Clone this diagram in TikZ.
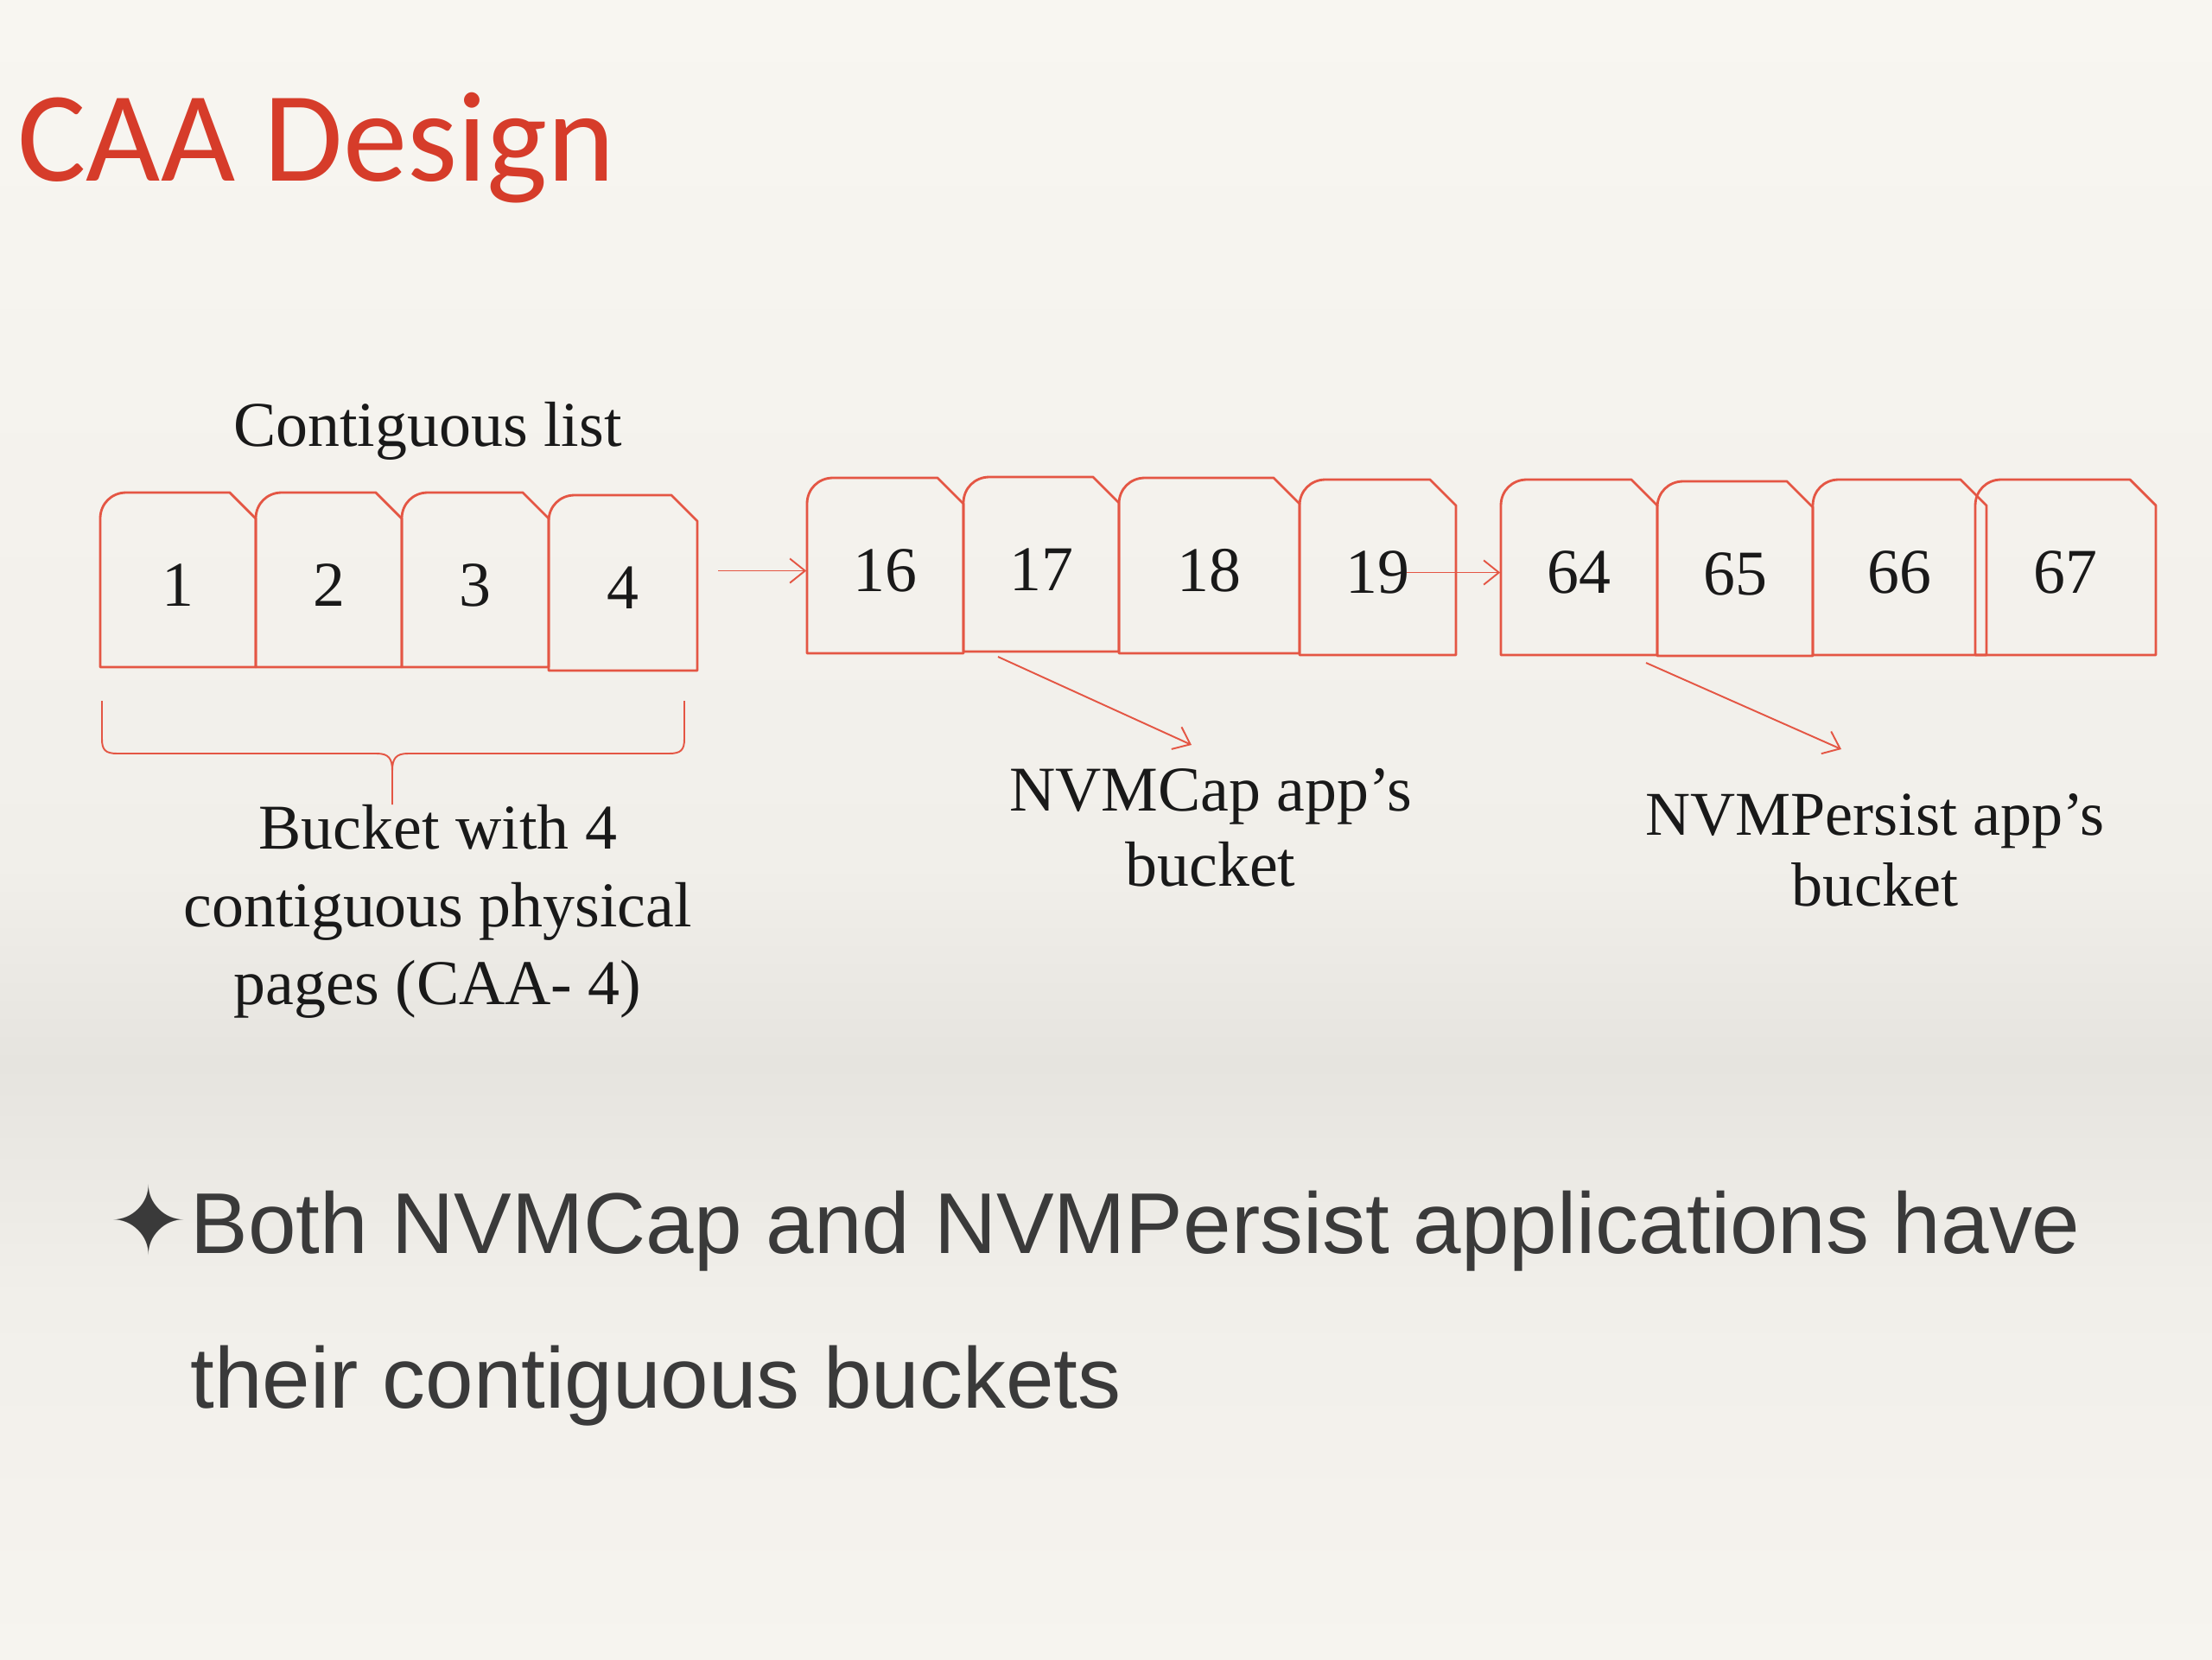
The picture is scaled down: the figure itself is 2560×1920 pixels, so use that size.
\documentclass[tikz,border=0pt]{standalone}
\usepackage{fontspec}
\setmainfont{Liberation Serif}
\newfontfamily\titlefont{Carlito}
\newfontfamily\bodyfont{Liberation Sans}
\newfontfamily\symbfont{DejaVu Sans}
\usetikzlibrary{positioning}
\usetikzlibrary{arrows.meta}

\definecolor{pagered}{RGB}{228,86,68}
\definecolor{titlered}{RGB}{214,60,42}
\definecolor{inkgray}{RGB}{58,58,58}
\definecolor{bgtop}{RGB}{248,246,241}
\definecolor{bgmid}{RGB}{241,239,234}
\definecolor{bgband}{RGB}{230,228,223}
\definecolor{bgbot}{RGB}{246,244,239}

\tikzset{pageline/.style = {draw=pagered, line width=0.8pt, line join=round}}
\tikzset{pagenum/.style = {inner sep=0, text=black!90, font=\fontsize{21}{25}\selectfont}}
\tikzset{link/.style = {draw=pagered, line width=0.55pt,
                        -{Straight Barb[length=5pt,width=8pt]}}}
\tikzset{note/.style = {align=center, inner sep=0, text=black!90,
                        font=\fontsize{21}{25.5}\selectfont}}

% one page of a bucket: name, left, top, right, bottom, number
\newcommand{\pagebox}[6]{%
  \draw[pageline] (#2,#5) -- (#2,#3+30) .. controls (#2,#3+13) and (#2+13,#3) .. (#2+30,#3)
    -- (#4-30,#3) -- (#4,#3+30) -- (#4,#5) -- cycle;
  \node[pagenum, minimum width={(#4-#2)*0.28453pt}, minimum height={(#5-#3)*0.28453pt}]
    (#1) at ({(#2+#4)/2},{(#3+#5)/2+6}) {#6};
}

\begin{document}
\begin{tikzpicture}[x=0.01cm, y=-0.01cm]
      \useasboundingbox (0,0) rectangle (2560,1920);
      % parchment background
      \fill[top color=bgtop, bottom color=bgmid] (0,0) rectangle (2560,1001);
      \fill[top color=bgmid, bottom color=bgband] (0,1000) rectangle (2560,1231);
      \fill[top color=bgband, bottom color=bgmid] (0,1230) rectangle (2560,1501);
      \fill[top color=bgmid, bottom color=bgbot] (0,1500) rectangle (2560,1920);

      \node[anchor=base west, inner sep=0, text=titlered,
            font=\titlefont\fontsize{42.3}{50}\selectfont] (title) at (20,209) {CAA Design};

      \node[note, anchor=base] (listlbl) at (495,516) {Contiguous list};

      % the three buckets
      \pagebox{p1}{116}{570}{296}{772}{1}
      \pagebox{p2}{296}{570}{465}{772}{2}
      \pagebox{p3}{465}{570}{635}{772}{3}
      \pagebox{p4}{635}{573}{807}{776}{4}

      \pagebox{p16}{934}{553}{1115}{756}{16}
      \pagebox{p17}{1115}{552}{1295}{754}{17}
      \pagebox{p18}{1295}{553}{1504}{756}{18}
      \pagebox{p19}{1504}{555}{1685}{758}{19}

      \pagebox{p64}{1737}{555}{1918}{758}{64}
      \pagebox{p65}{1918}{557}{2098}{759}{65}
      \pagebox{p66}{2098}{555}{2299}{758}{66}
      \pagebox{p67}{2286}{555}{2495}{758}{67}

      \coordinate (out4) at (831,660.5);
      \coordinate (out19) at (1628,662.5);
      \draw[link] (out4) -- (p16.west);
      \draw[link] (out19) -- (p64.west);

      % brace under the first bucket
      \draw[pagered, line width=0.55pt] (118,811) -- (118,855)
        .. controls (118,868) and (122,872) .. (136,872) -- (436,872)
        .. controls (450,872) and (454,878) .. (454,892) -- (454,931);
      \draw[pagered, line width=0.55pt] (792,811) -- (792,855)
        .. controls (792,868) and (788,872) .. (774,872) -- (472,872)
        .. controls (458,872) and (454,878) .. (454,892);
      \coordinate (bracetip) at (454,931);
      \node[note, below=0pt of bracetip, xshift=15pt] (bucketlbl)
        {Bucket with 4\\contiguous physical\\pages (CAA- 4)};

      \coordinate (from17) at (1155,760);
      \coordinate (capend) at (1379,862);
      \draw[link] (from17) -- (capend);
      \node[note, anchor=north, font=\fontsize{21}{24.6}\selectfont] (caplbl)
        at (1401,889) {NVMCap app’s\\bucket};

      \coordinate (from64) at (1905,767);
      \coordinate (persistend) at (2131,867);
      \draw[link] (from64) -- (persistend);
      \node[note, anchor=north, font=\fontsize{20.5}{23.2}\selectfont] (persistlbl)
        at (2170,918) {NVMPersist app’s\\bucket};

      % bullet
      \node[inner sep=0, text=inkgray, font=\symbfont\fontsize{31}{34}\selectfont]
        (star) at (172,1412) {✦};
      \node[anchor=base west, inner sep=0, text=inkgray,
            font=\bodyfont\fontsize{28.4}{34}\selectfont] (bulletA) at (220,1450)
        {Both NVMCap and NVMPersist applications have};
      \node[anchor=base west, inner sep=0, text=inkgray,
            font=\bodyfont\fontsize{28.4}{34}\selectfont] (bulletB) at (220,1629)
        {their contiguous buckets};
\end{tikzpicture}
\end{document}
